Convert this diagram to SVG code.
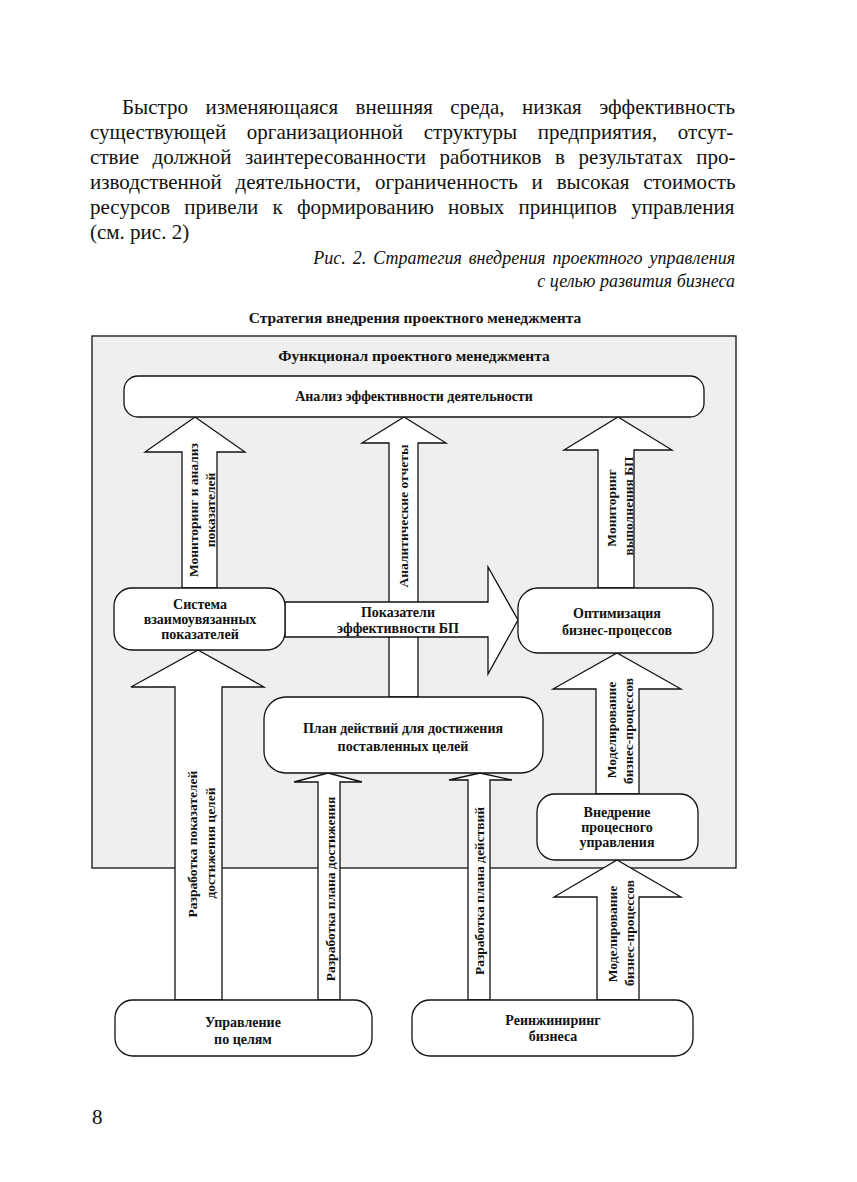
<svg xmlns="http://www.w3.org/2000/svg" width="857" height="1182" viewBox="0 0 857 1182">
<style>
.para{font-family:"Liberation Serif",serif;font-size:21px;fill:#111}
.cap{font-family:"Liberation Serif",serif;font-size:18px;font-style:italic;fill:#111;text-anchor:end}
.t{font-family:"Liberation Serif",serif;font-weight:bold;font-size:14px;fill:#111;text-anchor:middle;dominant-baseline:central}
.v{font-size:13.5px}
.big{font-size:15.5px}
.arrow{fill:#fff;stroke:#111;stroke-width:1.3;stroke-linejoin:miter}
.box{fill:#fff;stroke:#111;stroke-width:1.3}
</style>
<rect width="857" height="1182" fill="#fff"/>
<g id="paragraph">
<text class="para" x="122" y="114" word-spacing="12.3">Быстро изменяющаяся внешняя среда, низкая эффективность</text>
<text class="para" x="90" y="139" word-spacing="15.4">существующей организационной структуры предприятия, отсут-</text>
<text class="para" x="90" y="164" word-spacing="8.3">ствие должной заинтересованности работников в результатах про-</text>
<text class="para" x="90" y="189" word-spacing="8.6">изводственной деятельности, ограниченность и высокая стоимость</text>
<text class="para" x="90" y="214" word-spacing="9">ресурсов привели к формированию новых принципов управления</text>
<text class="para" x="90" y="239">(см. рис. 2)</text>
</g>
<g id="caption">
<text class="cap" x="735" y="264" word-spacing="2.5">Рис. 2. Стратегия внедрения проектного управления</text>
<text class="cap" x="735" y="287">с целью развития бизнеса</text>
</g>
<text class="t big" x="415" y="317">Стратегия внедрения проектного менеджмента</text>
<g id="frame">
<rect x="92" y="336" width="644" height="532" fill="#efefef" stroke="#111" stroke-width="1.3"/>
<text class="t big" x="414" y="355">Функционал проектного менеджмента</text>
</g>
<g id="connectors">
<polygon class="arrow" points="182,588 182,452 145,452 195,417 245,452 217,452 217,588"/>
<polygon class="arrow" points="389,697 389,443 362,443 404,417 446,443 418,443 418,697"/>
<polygon class="arrow" points="598,588 598,450 564,450 618,417 672,450 634,450 634,588"/>
<polygon class="arrow" points="285,602 488,602 488,567 518,620 488,674 488,637 285,637"/>
<polygon class="arrow" points="175,1000 175,687 131,687 198,650 264,687 222,687 222,1000"/>
<polygon class="arrow" points="318,1000 318,782 294,782 328,773 362,782 340,782 340,1000"/>
<polygon class="arrow" points="468,1000 468,780 449,780 480,773 512,780 490,780 490,1000"/>
<polygon class="arrow" points="596,794 596,689 553,689 617,653 681,689 639,689 639,794"/>
<polygon class="arrow" points="597,1000 597,897 554,897 617,860 681,897 639,897 639,1000"/>
<text class="t v" transform="translate(193,510) rotate(-90)">Мониторинг и анализ</text>
<text class="t v" transform="translate(210,510) rotate(-90)">показателей</text>
<text class="t v" transform="translate(403,516) rotate(-90)">Аналитические отчеты</text>
<text class="t v" transform="translate(611,508) rotate(-90)">Мониторинг</text>
<text class="t v" transform="translate(628,506) rotate(-90)">выполнения БП</text>
<text class="t" x="398" y="612">Показатели</text>
<text class="t" x="398" y="628">эффективности БП</text>
<text class="t v" transform="translate(192,844) rotate(-90)">Разработка показателей</text>
<text class="t v" transform="translate(210,843) rotate(-90)">достижения целей</text>
<text class="t v" transform="translate(330,889) rotate(-90)">Разработка плана достижения</text>
<text class="t v" transform="translate(479,891) rotate(-90)">Разработка плана действий</text>
<text class="t v" transform="translate(611,730) rotate(-90)">Моделирование</text>
<text class="t v" transform="translate(628,731) rotate(-90)">бизнес-процессов</text>
<text class="t v" transform="translate(612,934) rotate(-90)">Моделирование</text>
<text class="t v" transform="translate(629,933) rotate(-90)">бизнес-процессов</text>
</g>
<g id="analysis">
<rect class="box" x="124" y="376" width="580" height="41" rx="14"/>
<text class="t" x="414" y="396">Анализ эффективности деятельности</text>
</g>
<g id="system">
<rect class="box" x="114" y="588" width="171" height="62" rx="18"/>
<text class="t" x="200" y="604">Система</text>
<text class="t" x="200" y="619">взаимоувязанных</text>
<text class="t" x="200" y="634">показателей</text>
</g>
<g id="optimization">
<rect class="box" x="518" y="588" width="195" height="65" rx="20"/>
<text class="t" x="617" y="613">Оптимизация</text>
<text class="t" x="617" y="630">бизнес-процессов</text>
</g>
<g id="plan">
<rect class="box" x="264" y="697" width="279" height="76" rx="22"/>
<text class="t" x="403" y="728">План действий для достижения</text>
<text class="t" x="403" y="746">поставленных целей</text>
</g>
<g id="implementation">
<rect class="box" x="537" y="794" width="161" height="66" rx="18"/>
<text class="t" x="617" y="812">Внедрение</text>
<text class="t" x="617" y="827">процесного</text>
<text class="t" x="617" y="842">управления</text>
</g>
<g id="mbo">
<rect class="box" x="115" y="1000" width="257" height="56" rx="18"/>
<text class="t" x="243" y="1022">Управление</text>
<text class="t" x="243" y="1039">по целям</text>
</g>
<g id="reengineering">
<rect class="box" x="412" y="1000" width="281" height="56" rx="18"/>
<text class="t" x="553" y="1020">Реинжиниринг</text>
<text class="t" x="553" y="1036">бизнеса</text>
</g>
<text class="para" x="92" y="1124">8</text>
</svg>
